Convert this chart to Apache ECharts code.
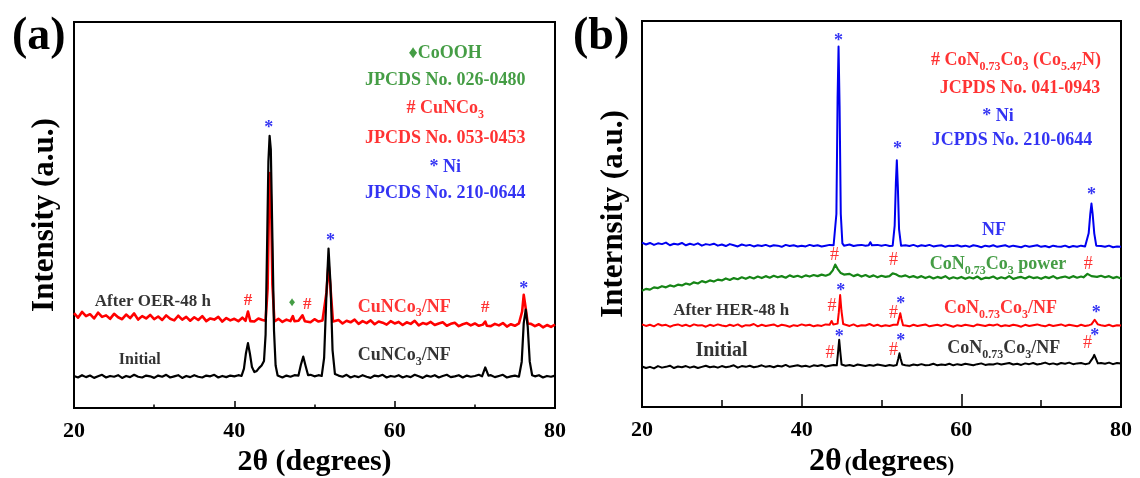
<!DOCTYPE html>
<html><head><meta charset="utf-8">
<script src="https://cdn.jsdelivr.net/npm/echarts@6/dist/echarts.min.js"></script>
<style>html,body{margin:0;padding:0;background:#fff}#c{width:1140px;height:478px}</style>
</head><body><div id="c"></div>
<script>
// ---------- DATA ----------
const X_GRID = [20,20.5,21,21.5,22,22.5,23,23.5,24,24.5,25,25.5,26,26.5,27,27.5,28,28.5,29,29.5,
30,30.5,31,31.5,32,32.5,33,33.5,34,34.5,35,35.5,36,36.5,37,37.5,38,38.5,39,39.5,
40,40.5,41,41.5,42,42.5,43,43.5,44,44.5,45,45.5,46,46.5,47,47.5,48,48.5,49,49.5,
50,50.5,51,51.5,52,52.5,53,53.5,54,54.5,55,55.5,56,56.5,57,57.5,58,58.5,59,59.5,
60,60.5,61,61.5,62,62.5,63,63.5,64,64.5,65,65.5,66,66.5,67,67.5,68,68.5,69,69.5,
70,70.5,71,71.5,72,72.5,73,73.5,74,74.5,75,75.5,76,76.5,77,77.5,78,78.5,79,79.5,80];
const X_TICKS = [20, 40, 60, 80];

// Panel (a)
const baseA_initial = [8.3,7.9,8.5,8.0,8.4,7.8,8.2,8.6,7.9,8.3, 8.1,8.5,7.8,8.3,8.0,8.6,8.1,7.9,8.4,8.2,
 7.8,8.4,8.1,8.6,7.9,8.2,8.5,7.8,8.3,8.0, 8.5,8.1,7.9,8.4,8.2,8.6,7.9,8.3,8.0,8.4,
 8.2,8.5,8.3,8.6,9.5,9.8,10.4,11.0,20,60, 8.6,8.2,7.9,8.4,8.1,8.5,8.3,8.0,8.2,8.6,
 8.2,8.5,8.4,8.3,8.5,8.0,8.4,8.1,8.6,7.9, 8.3,8.0,8.5,8.1,7.8,8.4,8.2,8.6,7.9,8.3,
 8.1,8.5,7.9,8.3,8.0,8.6,8.2,7.8,8.4,8.1, 8.5,7.9,8.3,8.6,8.0,8.2,8.5,7.9,8.4,8.1,
 8.3,8.6,8.4,8.2,8.5,8.0,8.3,8.6,7.9,8.2, 8.4,8.1,8.5,9.0,8.6,8.2,8.5,7.9,8.3,8.1, 8.4];
const peaksA_initial = [
 [[40.9,8.3],[41.2,10.2],[41.45,14.2],[41.7,16.8],[41.95,14.0],[42.2,10.6],[42.5,9.3],[42.8,9.6],[43.1,10.4],[43.4,11.0],[43.7,12.2],[43.9,19],[44.1,44],[44.25,64],[44.4,70.5],[44.55,67],[44.75,44],[44.95,20],[45.15,11],[45.4,8.4]],
 [[48.0,8.4],[48.3,11.2],[48.6,13.3],[48.9,10.8],[49.2,8.5]],
 [[50.9,8.3],[51.2,13],[51.5,30],[51.75,41.3],[52.0,32],[52.25,15],[52.55,8.8]],
 [[70.9,8.2],[71.3,10.5],[71.7,8.4]],
 [[75.6,8.3],[75.85,12],[76.1,22],[76.35,25.5],[76.6,21],[76.85,12],[77.15,8.5]]
];
const baseA_after = [24.6,23.4,24.9,23.8,24.3,23.2,24.7,23.6,24.0,23.1, 24.4,23.5,23.0,24.2,23.3,24.5,22.9,23.8,23.2,24.1,
 23.0,23.7,22.8,24.0,23.1,22.7,23.9,22.9,23.6,22.6, 23.5,22.8,23.8,22.5,23.2,22.9,23.6,22.4,23.3,22.7,
 23.1,22.5,23.4,22.6,23.0,22.4,23.2,22.8,40,55, 22.4,23.1,22.3,22.9,22.5,23.3,22.6,23.4,22.8,22.2,
 23.0,22.4,22.7,22.1,23.0,22.3,22.8,21.9,22.6,22.2, 22.9,21.8,22.5,22.0,22.7,21.7,22.4,22.1,21.6,22.5,
 21.9,22.3,21.5,22.2,21.8,22.6,21.4,22.0,21.7,22.3, 21.5,21.9,22.2,21.3,21.8,22.1,21.2,21.7,22.0,21.4,
 21.9,21.3,21.6,22.1,21.2,21.8,21.4,22.0,21.1,21.7, 21.3,21.9,21.5,21.1,21.8,21.2,21.7,20.9,21.5,21.0, 21.6];
const peaksA_after = [
 [[41.4,22.6],[41.7,25.0],[42.0,22.5]],
 [[43.9,22.6],[44.15,31],[44.3,50],[44.45,60.9],[44.6,52],[44.75,32],[45.0,22.4]],
 [[47.1,22.4],[47.3,23.8],[47.5,22.5]],
 [[48.2,22.7],[48.5,24.0],[48.8,22.5]],
 [[51.2,22.5],[51.5,30],[51.75,37.5],[52.0,31],[52.3,22.4]],
 [[71.1,21.5],[71.3,22.4],[71.5,21.3]],
 [[75.7,21.4],[75.9,25],[76.1,29.3],[76.3,26.5],[76.6,21.9]]
];

// Panel (b)
const baseB_NF = [42.6,42.1,42.5,42.0,42.4,42.2,42.6,41.9,42.3,42.1, 42.5,41.9,42.3,42.0,42.4,41.8,42.2,42.0,42.3,41.8,
 42.1,41.7,42.2,41.9,41.6,42.1,41.8,42.0,41.6,41.9, 41.7,42.0,41.6,41.9,41.8,41.5,42.0,41.7,41.9,41.6,
 41.8,41.6,42.0,41.7,41.9,41.6,41.8,42.0,41.9,90, 42.0,41.8,42.1,41.7,41.9,42.0,41.8,42.2,42.4,42.0,
 41.8,42.0,41.7,50,41.9,41.6,41.9,41.7,42.0,41.6, 41.9,41.7,42.0,41.6,41.8,41.9,41.5,41.8,41.7,41.9,
 41.6,41.8,41.5,41.9,41.7,41.4,41.8,41.6,41.9,41.5, 41.7,41.9,41.5,41.8,41.6,41.4,41.8,41.5,41.7,41.9,
 41.5,41.7,41.4,41.8,41.6,41.5,41.8,41.4,41.7,41.5, 41.8,41.6,45,50,41.6,41.7,41.5,41.8,41.4,41.6, 41.5];
const peaksB_NF = [
 [[44.1,41.9],[44.35,50],[44.5,80],[44.62,93.4],[44.75,78],[44.9,50],[45.1,42.4],[45.3,41.8]],
 [[48.4,41.9],[48.6,42.7],[48.8,41.9]],
 [[51.4,41.8],[51.65,47],[51.8,58],[51.92,63.9],[52.05,57],[52.2,46],[52.45,41.8]],
 [[75.7,41.6],[75.95,45],[76.15,50],[76.3,52.7],[76.45,50],[76.65,45],[76.9,41.8]]
];
const baseB_power = [30.1,30.6,30.4,31.0,30.8,31.3,31.0,31.5,31.2,31.7, 31.5,32.0,31.7,32.3,32.0,32.6,32.3,32.8,32.5,33.0,
 32.8,33.3,32.9,33.4,33.1,33.6,33.2,33.7,33.3,33.8, 33.4,33.9,33.5,34.0,33.6,33.9,33.5,34.1,33.7,34.0,
 33.6,34.1,33.8,34.2,33.9,34.3,34.0,34.4,35.5,36.5, 34.8,34.2,34.5,33.9,34.3,33.8,34.2,33.7,34.1,33.6,
 34.0,33.7,34.2,34.6,34.3,33.8,34.1,33.6,33.9,33.5, 33.9,33.4,33.8,33.3,33.7,33.4,33.9,33.2,33.6,33.3,
 33.7,33.2,33.6,33.3,33.8,33.1,33.5,33.4,33.8,33.2, 33.6,33.3,33.9,33.2,33.5,33.7,33.3,33.8,33.4,33.6,
 33.2,33.7,33.4,33.9,33.3,33.6,33.8,33.4,33.9,33.5, 33.8,34.1,34.3,34.0,33.7,34.0,33.6,33.9,33.4,33.7, 33.3];
const peaksB_power = [
 [[43.6,34.2],[43.9,35.4],[44.2,36.9],[44.5,35.8],[44.9,34.7],[45.3,34.3]],
 [[51.0,33.9],[51.4,34.6],[51.8,34.4],[52.2,33.9]],
 [[75.3,33.6],[75.8,34.5],[76.3,33.9]]
];
const baseB_after = [21.4,21.0,21.3,20.9,21.5,21.1,21.3,20.8,21.2,21.4, 21.0,21.3,20.9,21.4,21.1,21.2,20.8,21.3,21.0,21.4,
 21.1,20.9,21.3,21.0,21.4,20.8,21.2,21.1,21.5,20.9, 21.3,21.0,21.2,21.4,20.9,21.3,21.1,20.8,21.2,21.0,
 21.4,21.1,21.3,20.9,21.2,21.0,21.4,21.3,21.8,21.5, 25,21.3,21.0,21.4,20.9,21.2,21.1,21.5,21.0,21.3,
 20.9,21.2,21.0,21.3,23,21.4,21.1,20.9,21.3,21.0, 21.2,21.4,20.9,21.1,21.3,21.0,21.4,21.1,20.8,21.2,
 21.0,21.3,21.1,20.9,21.4,21.2,21.0,21.3,21.1,21.4, 20.9,21.2,21.0,21.3,21.1,20.8,21.3,21.0,21.2,21.4,
 21.1,20.9,21.3,21.0,21.2,21.4,21.0,21.3,21.1,20.9, 21.3,21.0,21.2,21.4,22,21.2,21.0,21.3,20.9,21.2, 21.1];
const peaksB_after = [
 [[43.55,21.2],[43.75,22.3],[43.95,21.4],[44.5,21.6],[44.65,24.5],[44.82,29.0],[44.98,25],[45.2,21.5]],
 [[52.0,21.3],[52.2,23.0],[52.35,24.3],[52.5,22.8],[52.7,21.2]],
 [[76.3,21.4],[76.7,22.6],[77.1,21.4]]
];
const baseB_initial = [10.5,10.1,10.4,10.0,10.6,10.2,10.4,10.7,10.1,10.5, 10.3,10.6,10.2,10.5,10.1,10.4,10.7,10.3,10.5,10.2,
 10.6,10.3,10.5,10.8,10.2,10.6,10.4,10.7,10.3,10.5, 10.8,10.4,10.6,10.3,10.7,10.5,10.9,10.4,10.6,10.8,
 10.5,10.7,10.4,10.8,10.6,10.9,10.5,10.7,10.9,14, 11.0,10.7,10.9,10.6,11.0,10.8,10.6,10.9,10.7,11.0,
 10.8,10.6,10.9,10.7,12.5,11.0,10.8,10.7,11.0,10.8, 11.1,10.8,10.9,11.2,10.8,11.0,10.9,11.2,10.8,11.1,
 10.9,11.2,11.0,10.8,11.1,11.3,10.9,11.1,11.0,11.3, 11.0,11.2,11.4,11.0,11.2,10.9,11.3,11.1,11.4,11.0,
 11.2,11.5,11.1,11.3,11.0,11.4,11.2,11.5,11.1,11.3, 11.4,11.1,11.3,12,13,11.4,11.2,11.5,11.1,11.4, 11.3];
const peaksB_initial = [
 [[44.4,10.8],[44.55,14],[44.7,17.4],[44.85,14],[45.0,11],[45.2,10.8]],
 [[51.9,10.9],[52.1,12.5],[52.25,13.9],[52.4,12.5],[52.6,11]],
 [[76.2,11.2],[76.5,12.8],[76.65,13.5],[76.8,12.8],[77.1,11.3]]
];

// Annotations: [x (2θ), y (a.u.), text]
const annoA_star = [[44.3,73.3,'*'],[52.0,43.9,'*'],[76.1,31.4,'*']];
const annoA_hash = [[41.7,27.8,'#'],[49.1,26.7,'#'],[71.3,26.0,'#']];
const annoA_diamond = [[47.2,27.2,'♦']];
const annoA_blackLeft = [[22.6,27.5,'After OER-48 h']];
const annoA_blackSmall = [[28.2,12.4,'Initial']];
const annoA_black = [[61.2,13.7,'CuNCo{s|3}/NF']];
const annoA_red = [[61.2,26.2,'CuNCo{s|3}/NF']];
const legendA_green = [[66.3,92.0,'♦CoOOH'],[66.3,85.0,'JPCDS No. 026-0480']];
const legendA_red = [[66.3,77.7,'# CuNCo{s|3}'],[66.3,69.9,'JPCDS No. 053-0453']];
const legendA_blue = [[66.3,62.4,'* Ni'],[66.3,55.7,'JPCDS No. 210-0644']];

const annoB_star = [[44.6,95.4,'*'],[52.0,67.4,'*'],[76.3,55.6,'*'],[44.9,30.8,'*'],[52.4,27.3,'*'],[76.9,25.1,'*'],[44.7,18.7,'*'],[52.4,17.8,'*'],[76.7,19.1,'*']];
const annoB_hash = [[44.1,39.3,'#'],[51.5,38.0,'#'],[75.9,37.1,'#'],[43.8,26.0,'#'],[51.5,24.3,'#'],[43.55,13.9,'#'],[51.5,14.6,'#'],[75.8,16.5,'#']];
const annoB_blue = [[64.1,45.7,'NF']];
const annoB_green = [[64.6,36.9,'CoN{s|0.73}Co{s|3} power']];
const annoB_blackLeft = [[23.9,25.1,'After HER-48 h']];
const annoB_red = [[64.9,25.6,'CoN{s|0.73}Co{s|3}/NF']];
const annoB_blackBig = [[29.96,14.6,'Initial']];
const annoB_black = [[65.3,15.3,'CoN{s|0.73}Co{s|3}/NF']];
const legendB_red = [[66.85,89.9,'# CoN{s|0.73}Co{s|3} (Co{s|5.47}N)'],[67.35,82.6,'JCPDS No. 041-0943']];
const legendB_blue = [[64.6,75.4,'* Ni'],[66.35,69.2,'JCPDS No. 210-0644']];

// ---------- CHART ----------
const FONT = "'Liberation Serif','Times New Roman',serif";
const RED = '#ff0000', BLUE = '#0000f0', GREEN = '#168516', BLACK = '#000000';

function build(base, peaks) {
  let pts = X_GRID.map((x, i) => [x, base[i]]);
  peaks.forEach(pk => {
    const lo = pk[0][0], hi = pk[pk.length - 1][0];
    pts = pts.filter(p => p[0] < lo || p[0] > hi).concat(pk);
  });
  return pts.sort((a, b) => a[0] - b[0]);
}
function lineSeries(g, data, color, w) {
  return { type: 'line', xAxisIndex: g, yAxisIndex: g, data, showSymbol: false, symbol: 'none',
    lineStyle: { color, width: w, join: 'round' }, silent: true, z: 2 };
}
function rich(color, size) {
  return { s: { fontSize: Math.round(size * 0.68), fontWeight: 'bold', fontFamily: FONT, color,
    padding: [Math.round(size * 0.7), 0, 0, 0] } };
}
function anno(g, arr, color, size, opts) {
  opts = opts || {};
  return { type: 'scatter', xAxisIndex: g, yAxisIndex: g, symbolSize: 1, silent: true, z: 10,
    itemStyle: { color: 'rgba(0,0,0,0)' },
    data: arr.map(a => ({ value: [a[0], a[1]], label: { formatter: a[2] } })),
    label: { show: true, position: 'inside', align: opts.align || 'center', verticalAlign: 'middle',
      offset: opts.offset || [0, 0], color, fontSize: size, fontWeight: opts.weight || 'bold',
      fontFamily: FONT, rich: rich(color, size) } };
}
function xAxis(g, major, minor, name, nameGap, nameStyle) {
  return { gridIndex: g, type: 'value', min: X_TICKS[0], max: X_TICKS[X_TICKS.length - 1], interval: X_TICKS[1] - X_TICKS[0],
    axisLine: { show: true, lineStyle: { color: '#000', width: 2 } },
    axisTick: { show: true, inside: true, length: major, lineStyle: { color: '#000', width: 1.5 } },
    minorTick: { show: true, splitNumber: 2, length: minor, lineStyle: { color: '#000', width: 1.5 } },
    splitLine: { show: false }, minorSplitLine: { show: false },
    axisLabel: { color: '#000', fontSize: 22, fontWeight: 'bold', fontFamily: FONT, margin: 12 },
    name, nameLocation: 'middle', nameGap, nameTextStyle: nameStyle };
}
function yAxis(g, name, nameGap) {
  return { gridIndex: g, type: 'value', min: 0, max: 100,
    axisLine: { show: false }, axisTick: { show: false }, axisLabel: { show: false }, splitLine: { show: false },
    name, nameLocation: 'middle', nameRotate: 90, nameGap,
    nameTextStyle: { color: '#000', fontSize: 31, fontWeight: 'bold', fontFamily: FONT } };
}

const chart = echarts.init(document.getElementById('c'), null, { renderer: 'canvas' });
chart.setOption({
  animation: false,
  backgroundColor: '#fff',
  title: [
    { text: '(a)', left: 12, top: 14, padding: 0, textStyle: { fontSize: 46, fontWeight: 'bold', fontFamily: FONT, color: '#000' } },
    { text: '(b)', left: 573, top: 14, padding: 0, textStyle: { fontSize: 46, fontWeight: 'bold', fontFamily: FONT, color: '#000' } }
  ],
  grid: [
    { left: 74, right: 585, top: 22, bottom: 70, containLabel: false, outerBoundsMode: 'none', show: true, borderColor: '#000', borderWidth: 2 },
    { left: 642, right: 19, top: 21, bottom: 71, containLabel: false, outerBoundsMode: 'none', show: true, borderColor: '#000', borderWidth: 2 }
  ],
  xAxis: [
    xAxis(0, 7, 3.5, '2θ (degrees)', 34, { color: '#000', fontSize: 30, fontWeight: 'bold', fontFamily: FONT }),
    xAxis(1, 13, 7, '{t|2θ} {p|(}{d|degrees}{p|)}', 34, { color: '#000', fontFamily: FONT, fontWeight: 'bold',
      rich: { t: { fontSize: 32, fontWeight: 'bold', fontFamily: FONT, color: '#000' },
              p: { fontSize: 20, fontWeight: 'bold', fontFamily: FONT, color: '#000', padding: [7, 0, 0, 0] },
              d: { fontSize: 30, fontWeight: 'bold', fontFamily: FONT, color: '#000' } } })
  ],
  yAxis: [ yAxis(0, 'Intensity (a.u.)', 14), yAxis(1, 'Internsity (a.u.)', 13) ],
  series: [
    lineSeries(0, build(baseA_after, peaksA_after), RED, 2.6),
    lineSeries(0, build(baseA_initial, peaksA_initial), BLACK, 2.2),
    lineSeries(1, build(baseB_NF, peaksB_NF), BLUE, 2),
    lineSeries(1, build(baseB_power, peaksB_power), GREEN, 2.2),
    lineSeries(1, build(baseB_after, peaksB_after), RED, 2),
    lineSeries(1, build(baseB_initial, peaksB_initial), BLACK, 2),

    anno(0, annoA_star, BLUE, 18, { offset: [0, 3] }),
    anno(0, annoA_hash, RED, 17),
    anno(0, annoA_diamond, GREEN, 13),
    anno(0, annoA_blackLeft, BLACK, 17, { align: 'left' }),
    anno(0, annoA_blackSmall, BLACK, 16),
    anno(0, annoA_black, BLACK, 18),
    anno(0, annoA_red, RED, 18),
    anno(0, legendA_green, GREEN, 18),
    anno(0, legendA_red, RED, 18),
    anno(0, legendA_blue, BLUE, 18),

    anno(1, annoB_star, BLUE, 18, { offset: [0, 3] }),
    anno(1, annoB_hash, RED, 18, { weight: 'normal' }),
    anno(1, annoB_blue, BLUE, 18),
    anno(1, annoB_green, GREEN, 18),
    anno(1, annoB_blackLeft, BLACK, 17, { align: 'left' }),
    anno(1, annoB_red, RED, 18),
    anno(1, annoB_blackBig, BLACK, 20),
    anno(1, annoB_black, BLACK, 18),
    anno(1, legendB_red, RED, 18),
    anno(1, legendB_blue, BLUE, 18)
  ]
});
</script>
</body></html>
